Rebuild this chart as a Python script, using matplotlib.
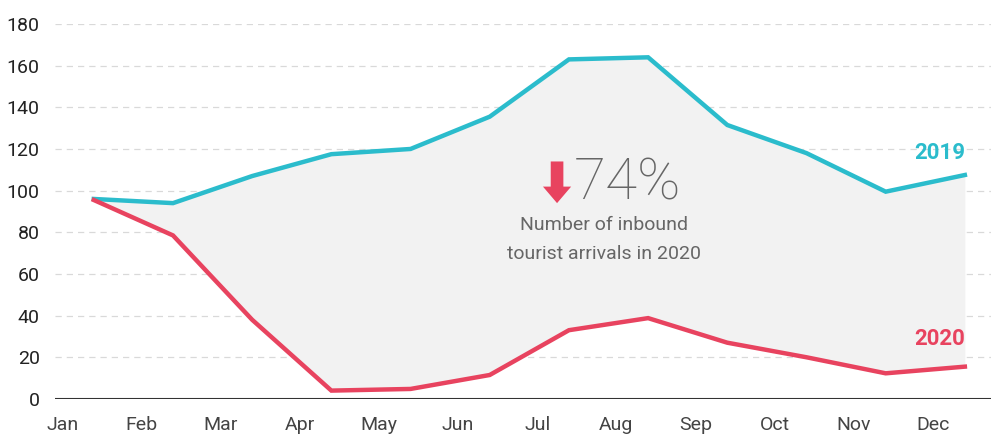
import numpy as np
import matplotlib
matplotlib.use('Agg')
import matplotlib.pyplot as plt

# Data (inbound tourist arrivals)
months = ['Jan', 'Feb', 'Mar', 'Apr', 'May', 'Jun', 'Jul', 'Aug', 'Sep', 'Oct', 'Nov', 'Dec']
arrivals_2019 = [96, 94, 107, 117.5, 120, 135.5, 163, 164, 131.5, 118, 99.5, 107.5]
arrivals_2020 = [95.5, 78.5, 38, 4, 4.8, 11.5, 33, 38.8, 27, 20, 12.3, 15.5]
yticks = [0, 20, 40, 60, 80, 100, 120, 140, 160, 180]

cyan = '#2bbccc'
red = '#e8435f'
grey_txt = '#666666'

plt.rcParams['font.family'] = ['Roboto', 'DejaVu Sans']

fig = plt.figure(figsize=(9.91, 4.36), dpi=100)
ax = fig.add_axes([0.0555, 0.085, 0.9445, 0.86])

x = np.arange(len(months))
ax.fill_between(x, arrivals_2020, arrivals_2019, color='#f2f2f2', lw=0, zorder=1)
ax.plot(x, arrivals_2019, color=cyan, lw=3.2, solid_joinstyle='miter', zorder=3)
ax.plot(x, arrivals_2020, color=red, lw=3.2, solid_joinstyle='miter', zorder=3)

ax.set_xlim(-0.49, 11.33)
ax.set_ylim(0, 180)

# grid
for t in yticks[1:]:
    ax.axhline(t, color='#d9d9d9', lw=0.9, ls=(0, (5, 4)), zorder=0)
ax.axhline(0, color='#333333', lw=1.5, zorder=4)

for s in ax.spines.values():
    s.set_visible(False)

ax.set_yticks(yticks)
ax.set_yticklabels([str(t) for t in yticks], fontsize=14, color='#222222')
ax.set_xticks(x - 0.4)
ax.set_xticklabels(months, fontsize=14, color='#444444')
ax.tick_params(axis='both', length=0)
ax.tick_params(axis='y', pad=11)
ax.tick_params(axis='x', pad=12)

# series labels
ax.text(11, 118, '2019', color=cyan, fontsize=16, fontweight='bold', ha='right', va='center')
ax.text(11, 29, '2020', color=red, fontsize=16, fontweight='bold', ha='right', va='center')

# annotation
ax.annotate('', xy=(5.85, 94), xytext=(5.85, 114),
            arrowprops=dict(arrowstyle='simple,head_width=1.45,head_length=0.85,tail_width=0.65',
                            color=red, lw=0, mutation_scale=14, shrinkA=0, shrinkB=0))
ax.text(6.06, 103, '74%', fontsize=42, color='#666666', ha='left', va='center',
        fontweight='light')
ax.text(6.44, 83.5, 'Number of inbound', fontsize=14, color=grey_txt, ha='center', va='center')
ax.text(6.44, 69.6, 'tourist arrivals in 2020', fontsize=14, color=grey_txt, ha='center', va='center')

fig.savefig('out.png', dpi=100)
